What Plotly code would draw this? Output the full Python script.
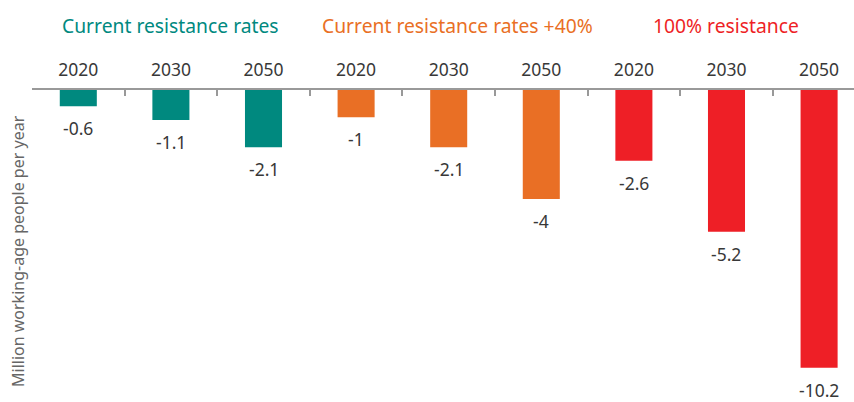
import plotly.graph_objects as go

years = ["2020", "2030", "2050", "2020", "2030", "2050", "2020", "2030", "2050"]
values = [-0.6, -1.1, -2.1, -1, -2.1, -4, -2.6, -5.2, -10.2]
value_labels = ["-0.6", "-1.1", "-2.1", "-1", "-2.1", "-4", "-2.6", "-5.2", "-10.2"]
groups = ["Current resistance rates", "Current resistance rates +40%", "100% resistance"]
group_colors = ["#00897f", "#e96f25", "#ee1f26"]
y_title = "Million working-age people per year"

FONT = "Noto Sans"
xs = list(range(len(values)))
bar_colors = [group_colors[i // 3] for i in xs]

fig = go.Figure()
fig.add_trace(go.Bar(x=xs, y=values, marker_color=bar_colors, marker_line_width=0,
                     width=0.4, showlegend=False, hoverinfo="skip"))
fig.add_trace(go.Scatter(x=[xs[0]], y=[0], xaxis="x2", mode="markers",
                         marker_opacity=0, showlegend=False, hoverinfo="skip"))

xr = [-0.5, 8.377]
annotations = []
for x, v, t in zip(xs, values, value_labels):
    annotations.append(dict(x=x, y=v, xref="x", yref="y", text=t, showarrow=False,
                            yanchor="top", yshift=-8,
                            font=dict(family=FONT, size=17.5, color="#383838")))
for gi, (g, c) in enumerate(zip(groups, group_colors)):
    annotations.append(dict(x=gi * 3 + 1 + (0.1 if gi == 1 else 0), y=1, xref="x", yref="paper",
                            text=g, showarrow=False, yanchor="middle", yshift=65,
                            font=dict(family=FONT, size=19.3, color=c)))
annotations.append(dict(x=0, y=0.5, xref="paper", yref="paper", text=y_title,
                        showarrow=False, textangle=-90, xshift=-14, xanchor="center",
                        yanchor="middle", yshift=-6,
                        font=dict(family=FONT, size=16, color="#666666")))

fig.update_layout(
    width=854, height=402,
    margin=dict(l=32, r=0, t=90, b=2),
    plot_bgcolor="white", paper_bgcolor="white",
    xaxis=dict(range=xr, side="top", tickvals=xs, ticktext=years, ticks="",
               ticklabelstandoff=10,
               showgrid=False, zeroline=False, showline=False,
               tickfont=dict(family=FONT, size=17.5, color="#383838")),
    xaxis2=dict(range=xr, overlaying="x", side="top",
                tickvals=[i - 0.5 for i in range(10)], ticks="inside", ticklen=6,
                tickcolor="#999999", tickwidth=1.5, showticklabels=False,
                showline=True, linecolor="#999999", linewidth=1.5,
                showgrid=False, zeroline=False),
    yaxis=dict(range=[-11.38, 0], visible=False, showgrid=False, zeroline=False),
    annotations=annotations,
)
fig.write_html("out.html", config={"displayModeBar": False},
               post_script="document.body.style.margin='0';")
